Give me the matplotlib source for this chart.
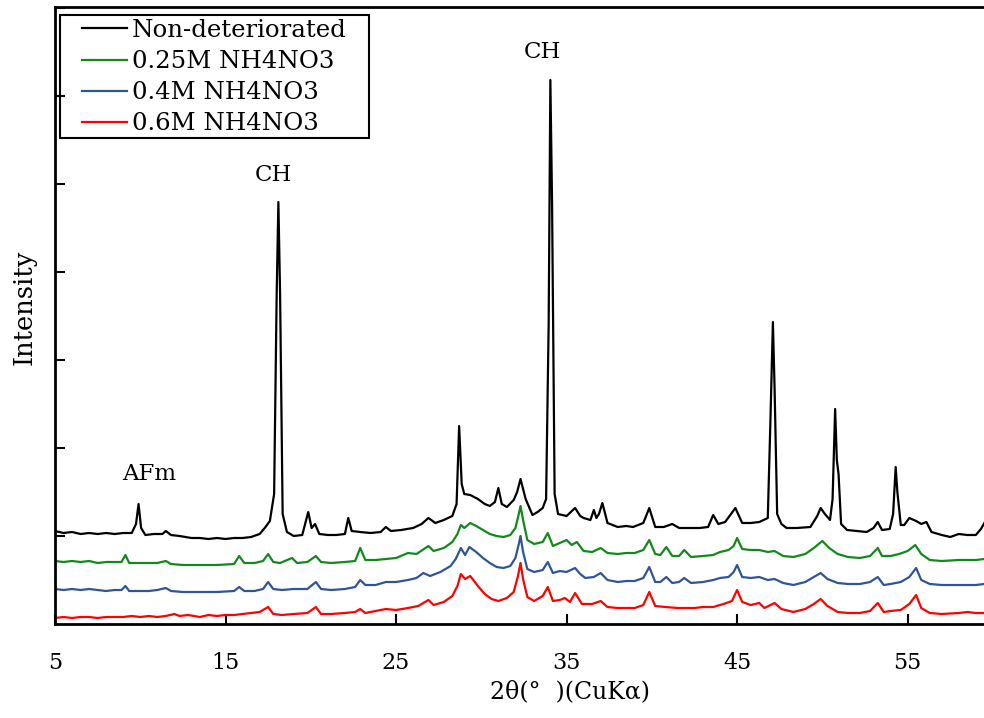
import matplotlib
matplotlib.use("Agg")
import matplotlib.pyplot as plt
from matplotlib.patches import Rectangle

plt.rcParams['font.family'] = ['DejaVu Serif']

# ---- data: 2theta (deg) and intensity (arbitrary counts, offset stacked) ----
x_black = [5.0, 5.5, 6.0, 6.5, 7.0, 7.5, 8.0, 8.5, 9.0, 9.5, 9.75, 9.9, 10.05, 10.3, 10.8, 11.3, 11.5, 11.8,
           12.3, 13.0, 13.5, 14.0, 14.5, 15.0, 15.5, 16.0, 16.5, 17.0, 17.3, 17.6, 17.85, 18.0, 18.1, 18.2,
           18.35, 18.6, 19.0, 19.5, 19.85, 20.05, 20.25, 20.5, 21.0, 21.5, 22.0, 22.2, 22.4, 22.9, 23.5, 24.1,
           24.4, 24.7, 25.3, 26.0, 26.5, 26.9, 27.3, 27.8, 28.3, 28.55, 28.7, 28.85, 29.0, 29.35, 29.8, 30.2,
           30.5, 30.8, 31.0, 31.2, 31.5, 31.9, 32.1, 32.3, 32.6, 33.0, 33.3, 33.6, 33.8, 33.95, 34.05, 34.15,
           34.3, 34.5, 35.0, 35.5, 35.8, 36.0, 36.4, 36.6, 36.75, 36.9, 37.1, 37.4, 38.0, 38.5, 38.9, 39.5,
           39.85, 40.2, 40.7, 41.2, 41.6, 42.2, 42.8, 43.3, 43.6, 43.9, 44.3, 44.9, 45.3, 45.8, 46.3, 46.8,
           46.95, 47.1, 47.2, 47.35, 47.6, 47.9, 48.5, 49.3, 49.7, 49.9, 50.15, 50.45, 50.6, 50.75, 50.85,
           50.95, 51.1, 51.45, 52.0, 52.6, 53.0, 53.25, 53.5, 53.95, 54.15, 54.3, 54.4, 54.6, 54.8, 55.1,
           55.5, 55.8, 56.1, 56.4, 57.0, 57.5, 58.0, 58.5, 59.0, 59.3, 59.5]
y_black = [93, 91, 92, 90, 91, 90, 91, 90, 91, 91, 100, 120, 96, 89, 90, 90, 93, 89,
           88, 86, 86, 85, 86, 85, 86, 86, 87, 90, 96, 103, 130, 330, 422, 330,
           110, 92, 88, 89, 112, 96, 100, 90, 89, 89, 90, 106, 93, 92, 91, 92,
           97, 93, 94, 96, 100, 106, 101, 104, 108, 120, 198, 140, 130, 129, 125, 120,
           118, 122, 136, 120, 117, 124, 132, 145, 125, 109, 112, 116, 125, 300, 544, 420,
           130, 110, 108, 116, 108, 106, 104, 114, 106, 110, 121, 101, 97, 98, 97, 101,
           116, 97, 97, 100, 96, 96, 96, 97, 109, 100, 102, 116, 101, 101, 102, 106,
           200, 302, 235, 110, 100, 96, 96, 97, 108, 116, 110, 104, 125, 215, 164,
           150, 100, 94, 93, 92, 96, 102, 94, 95, 110, 157, 132, 99, 99, 106,
           103, 100, 102, 92, 89, 87, 90, 89, 89, 95, 101]

x_green = [5.0, 5.5, 6.0, 6.5, 7.0, 7.5, 8.0, 8.5, 8.9, 9.13, 9.35, 10.0, 10.5, 11.0, 11.5, 11.8, 12.5,
           13.5, 14.5, 15.5, 15.8, 16.1, 16.7, 17.2, 17.5, 17.8, 18.2, 18.9, 19.2, 19.8, 20.3, 20.6, 21.2,
           22.0, 22.6, 22.9, 23.2, 23.8, 24.4, 25.0, 25.7, 26.2, 26.9, 27.2, 27.8, 28.3, 28.6, 28.8, 29.0,
           29.35, 29.7, 30.1, 30.5, 30.9, 31.3, 31.7, 32.0, 32.2, 32.3, 32.45, 32.7, 33.1, 33.6, 33.9, 34.2,
           34.6, 35.0, 35.3, 35.6, 36.0, 36.5, 37.0, 37.4, 38.0, 38.5, 39.0, 39.5, 39.85, 40.2, 40.5, 40.85,
           41.2, 41.6, 41.9, 42.3, 43.0, 43.6, 44.0, 44.5, 44.8, 45.0, 45.3, 45.8, 46.3, 46.8, 47.2, 47.7,
           48.3, 49.0, 49.5, 50.0, 50.4, 50.9, 51.5, 52.2, 52.8, 53.25, 53.5, 54.0, 54.5, 55.0, 55.45, 55.8,
           56.3, 57.0, 58.0, 59.0, 59.5]
y_green = [63, 62, 63, 62, 63, 61, 62, 62, 62, 69, 61, 61, 61, 61, 63, 60, 59,
           59, 59, 60, 68, 61, 61, 63, 70, 62, 61, 66, 61, 62, 68, 62, 61,
           62, 63, 76, 64, 64, 65, 66, 71, 70, 78, 73, 76, 82, 90, 99, 96,
           101, 98, 94, 90, 88, 87, 89, 96, 110, 118, 104, 84, 80, 82, 91, 78,
           81, 84, 79, 82, 73, 72, 76, 71, 70, 71, 71, 74, 84, 70, 69, 77,
           68, 68, 74, 67, 68, 69, 72, 74, 78, 86, 75, 74, 74, 72, 73, 68,
           67, 70, 76, 83, 76, 70, 67, 66, 68, 76, 68, 68, 70, 73, 79, 70,
           64, 63, 64, 64, 65]

x_blue = [5.0, 5.5, 6.0, 6.5, 7.0, 7.5, 8.0, 8.5, 8.9, 9.13, 9.35, 10.0, 10.5, 11.0, 11.5, 11.8, 12.5,
          13.5, 14.5, 15.5, 15.8, 16.1, 16.7, 17.2, 17.5, 17.8, 18.3, 19.0, 19.8, 20.3, 20.6, 21.2, 22.0,
          22.6, 22.9, 23.2, 23.8, 24.4, 25.0, 25.7, 26.2, 26.6, 27.0, 27.6, 28.2, 28.5, 28.8, 29.05, 29.3,
          29.7, 30.1, 30.5, 30.9, 31.3, 31.7, 32.0, 32.2, 32.3, 32.45, 32.7, 33.1, 33.6, 33.9, 34.2, 34.6,
          35.0, 35.5, 35.8, 36.1, 36.6, 37.0, 37.4, 38.0, 38.5, 39.0, 39.5, 39.85, 40.2, 40.5, 40.85, 41.2,
          41.6, 41.9, 42.3, 43.0, 43.6, 44.0, 44.5, 44.8, 45.0, 45.3, 45.8, 46.3, 46.8, 47.2, 47.7, 48.3,
          49.0, 49.5, 49.9, 50.3, 50.9, 51.5, 52.2, 52.8, 53.25, 53.6, 54.0, 54.6, 55.1, 55.5, 55.8, 56.3,
          57.0, 58.0, 59.0, 59.5]
y_blue = [35, 34, 35, 34, 35, 34, 33, 34, 34, 38, 33, 33, 33, 34, 36, 33, 32,
          32, 32, 33, 37, 33, 33, 35, 42, 35, 34, 35, 35, 42, 35, 34, 35,
          37, 44, 39, 39, 42, 42, 44, 46, 51, 48, 52, 58, 65, 76, 69, 77,
          72, 66, 61, 57, 56, 58, 66, 80, 88, 72, 55, 52, 54, 62, 51, 53,
          52, 56, 50, 46, 47, 51, 44, 42, 43, 43, 46, 57, 42, 42, 47, 41,
          42, 46, 41, 42, 44, 46, 47, 52, 59, 47, 46, 47, 44, 45, 41, 39,
          42, 47, 51, 45, 41, 40, 40, 42, 47, 39, 40, 42, 47, 56, 44, 40,
          39, 39, 39, 40]

x_red = [5.0, 5.5, 6.0, 6.5, 7.0, 7.5, 8.0, 8.5, 9.0, 9.5, 10.0, 10.5, 11.0, 11.5, 12.0, 12.3, 12.8,
         13.5, 14.0, 14.5, 15.0, 15.5, 16.0, 16.5, 17.0, 17.5, 17.8, 18.3, 19.0, 19.8, 20.3, 20.6, 21.2,
         22.0, 22.6, 22.9, 23.2, 23.8, 24.4, 25.0, 25.7, 26.3, 26.9, 27.2, 27.8, 28.3, 28.6, 28.8, 29.05,
         29.35, 29.8, 30.2, 30.6, 31.0, 31.5, 31.9, 32.15, 32.3, 32.45, 32.7, 33.1, 33.6, 33.9, 34.2, 34.6,
         34.9, 35.2, 35.5, 35.9, 36.5, 37.0, 37.4, 38.0, 38.5, 39.0, 39.5, 39.85, 40.2, 40.8, 41.5, 42.5,
         43.0, 43.6, 44.2, 44.7, 45.0, 45.3, 45.8, 46.3, 46.6, 47.2, 47.6, 48.3, 49.0, 49.5, 49.9, 50.3,
         50.9, 51.5, 52.2, 52.8, 53.25, 53.6, 54.0, 54.6, 55.1, 55.5, 55.8, 56.3, 57.0, 58.0, 58.5, 59.0,
         59.5]
y_red = [6, 7, 6, 7, 7, 6, 7, 7, 7, 8, 7, 8, 7, 8, 10, 8, 9,
         7, 9, 8, 9, 9, 10, 11, 12, 17, 10, 9, 10, 11, 17, 10, 10,
         11, 12, 15, 11, 13, 15, 14, 16, 18, 24, 19, 22, 28, 38, 50, 45,
         48, 38, 30, 25, 23, 26, 32, 48, 61, 45, 27, 23, 28, 37, 23, 24,
         26, 22, 31, 20, 20, 23, 17, 16, 16, 16, 19, 32, 18, 17, 16, 16,
         17, 17, 20, 23, 34, 22, 19, 21, 16, 21, 15, 12, 15, 20, 25, 18,
         12, 11, 11, 13, 21, 12, 13, 14, 20, 29, 16, 11, 10, 11, 12, 11,
         11]

series_labels = ["Non-deteriorated", "0.25M NH4NO3", "0.4M NH4NO3", "0.6M NH4NO3"]
series_colors = ["#000000", "#13891b", "#2f5597", "#ff0000"]
x_ticks = [5, 15, 25, 35, 45, 55]
peak_labels = ["AFm", "CH", "CH"]
peak_pos = [(10.5, 150), (17.8, 449), (33.6, 572)]

W, H = 984, 718
fig = plt.figure(figsize=(W / 100, H / 100), dpi=100)
ax = fig.add_axes([55 / W, 94 / H, 1 - 55 / W, (624 - 7) / H])

series = [(x_black, y_black), (x_green, y_green), (x_blue, y_blue), (x_red, y_red)]
for (xs, ys), lab, col in zip(series, series_labels, series_colors):
    ax.plot(xs, ys, color=col, lw=1.6, label=lab)

ax.set_xlim(5, 59.48)
ax.set_ylim(0, 617)
ax.set_xticks(x_ticks)
ax.set_xticklabels([str(t) for t in x_ticks], fontsize=16)
ax.set_yticks([88 * k for k in range(1, 8)])
ax.set_yticklabels([])
ax.tick_params(axis='x', direction='in', length=7, width=1.5, pad=20)
ax.tick_params(axis='y', direction='in', length=7, width=1.5)
for s in ['left', 'bottom', 'top']:
    ax.spines[s].set_linewidth(2)
ax.spines['right'].set_visible(False)

ax.set_xlabel("2θ(°  )(CuKα)", fontsize=17)
ax.xaxis.set_label_coords((570 - 55) / 929, -(692 - 624) / 617, transform=ax.transAxes)
ax.xaxis.label.set_va('center')
ax.set_ylabel("Intensity", fontsize=18.5)
ax.yaxis.set_label_coords(-(55 - 24) / 929, (624 - 307) / 617, transform=ax.transAxes)
ax.yaxis.label.set_va('center')

for lab, (px, py) in zip(peak_labels, peak_pos):
    ax.text(px, py, lab, fontsize=16.5, ha='center', va='center')

leg = ax.legend(loc='upper left', bbox_to_anchor=(82 / W, 1 - 19 / H), bbox_transform=fig.transFigure,
                fontsize=17.6, frameon=False, handlelength=1.85, handletextpad=0.2,
                labelspacing=0.33, borderpad=0.0, borderaxespad=0.0)
fig.add_artist(Rectangle((60 / W, 1 - 138 / H), 309 / W, 123 / H, transform=fig.transFigure,
                         fill=False, edgecolor='black', linewidth=1.5))

fig.savefig("out.png", dpi=100)
